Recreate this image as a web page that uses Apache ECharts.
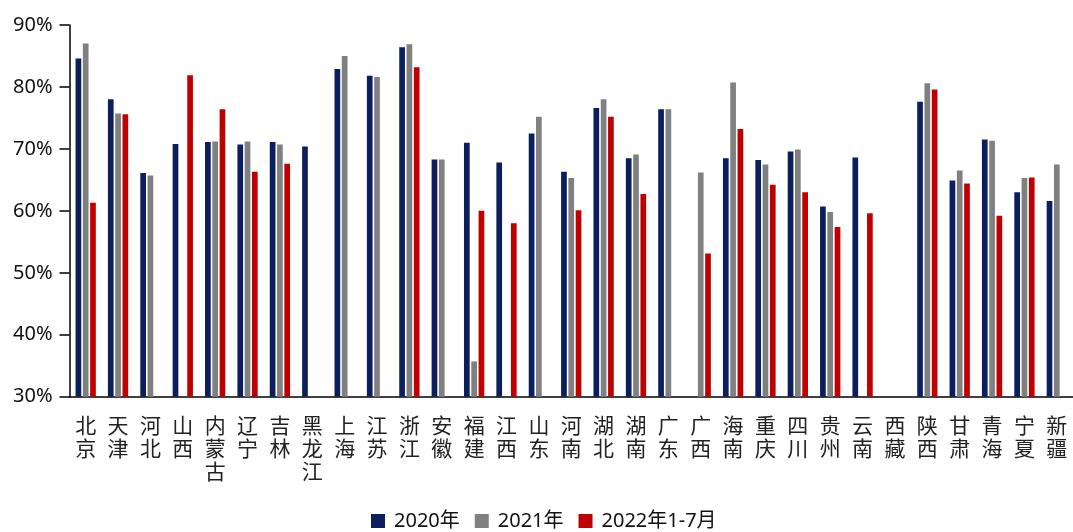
<!DOCTYPE html>
<html>
<head>
<meta charset="utf-8">
<script src="https://cdn.jsdelivr.net/npm/echarts@6/dist/echarts.min.js"></script>
<style>
  html, body { margin: 0; padding: 0; background: #fff; }
  #chart { width: 1073px; height: 532px; }
</style>
</head>
<body>
<div id="chart"></div>
<script>
// Provinces (category axis), characters stacked vertically
const provinces = ['北京','天津','河北','山西','内蒙古','辽宁','吉林','黑龙江','上海','江苏','浙江','安徽','福建','江西','山东','河南','湖北','湖南','广东','广西','海南','重庆','四川','贵州','云南','西藏','陕西','甘肃','青海','宁夏','新疆'];

// Values in percent; null where no figure is reported
const y2020 = [84.6, 78.0, 66.1, 70.8, 71.1, 70.7, 71.1, 70.4, 82.9, 81.8, 86.4, 68.3, 71.0, 67.8, 72.5, 66.3, 76.6, 68.5, 76.4, null, 68.5, 68.2, 69.6, 60.7, 68.6, null, 77.6, 64.9, 71.5, 63.0, 61.6];
const y2021 = [87.0, 75.7, 65.7, null, 71.2, 71.2, 70.7, null, 85.0, 81.6, 86.9, 68.3, 35.7, null, 75.2, 65.3, 78.0, 69.1, 76.4, 66.2, 80.7, 67.5, 69.9, 59.8, null, null, 80.6, 66.5, 71.3, 65.3, 67.5];
const y2022 = [61.3, 75.6, null, 81.9, 76.4, 66.3, 67.6, null, null, null, 83.2, null, 60.0, 58.0, null, 60.1, 75.2, 62.7, null, 53.1, 73.2, 64.2, 63.0, 57.4, 59.6, null, 79.6, 64.4, 59.2, 65.4, null];

const seriesNames = ['2020年', '2021年', '2022年1-7月'];
const yTicks = { min: 30, max: 90, step: 10 };

const chart = echarts.init(document.getElementById('chart'));
const labelFont = '"Noto Sans", "Noto Sans CJK SC", sans-serif';

function bar(name, data, color) {
  return {
    name: name,
    type: 'bar',
    data: data,
    barWidth: 5.7,
    barGap: '28%',
    itemStyle: { color: color },
    emphasis: { disabled: true }
  };
}

chart.setOption({
  animation: false,
  grid: { left: 69.5, top: 25, width: 1010, height: 371.7 },
  legend: {
    left: 366,
    top: 506,
    itemWidth: 14,
    itemHeight: 14,
    itemGap: 15,
    icon: 'rect',
    textStyle: { fontFamily: labelFont, fontSize: 20, color: '#111', padding: [0, 0, 0, 4] },
    data: seriesNames
  },
  xAxis: {
    type: 'category',
    data: provinces,
    axisLine: { lineStyle: { color: '#000', width: 1.5 } },
    axisTick: { length: 9, lineStyle: { color: '#000', width: 1.5 } },
    axisLabel: {
      interval: 0,
      margin: 17,
      fontFamily: '"Noto Sans CJK SC", sans-serif',
      fontSize: 21,
      lineHeight: 23,
      color: '#222',
      formatter: function (v) { return v.split('').join('\n'); }
    }
  },
  yAxis: {
    type: 'value',
    min: yTicks.min,
    max: yTicks.max,
    interval: yTicks.step,
    splitLine: { show: false },
    axisLine: { show: true, lineStyle: { color: '#000', width: 1.5 } },
    axisTick: { show: true, length: 10, lineStyle: { color: '#000', width: 1.5 } },
    axisLabel: {
      margin: 17,
      fontFamily: labelFont,
      fontSize: 20,
      color: '#111',
      formatter: '{value}%'
    }
  },
  series: [
    bar(seriesNames[0], y2020, '#0B1F5C'),
    bar(seriesNames[1], y2021, '#808080'),
    bar(seriesNames[2], y2022, '#C00000')
  ]
});
</script>
</body>
</html>
